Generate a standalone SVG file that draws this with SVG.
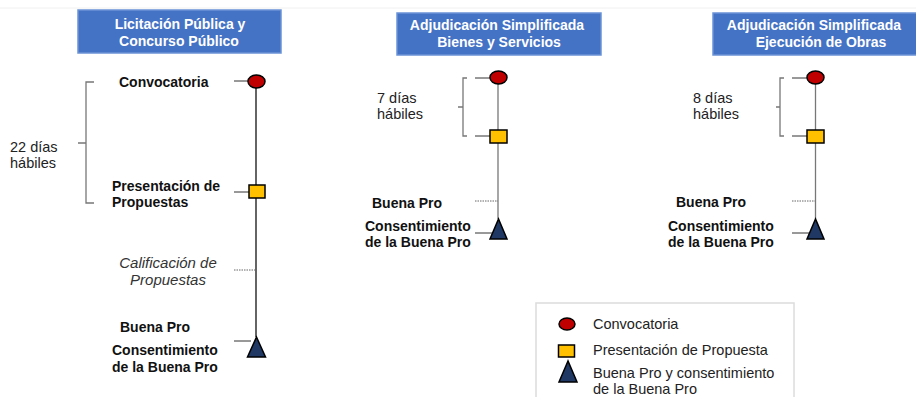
<svg xmlns="http://www.w3.org/2000/svg" width="916" height="397" viewBox="0 0 916 397">
<style>
.hdr{fill:#4472C4;stroke:#6B93D6;stroke-width:1.5}
.ht{font-family:"Liberation Sans",Arial,sans-serif;font-weight:bold;font-size:14px;fill:#fff;text-anchor:middle}
.lb{font-family:"Liberation Sans",Arial,sans-serif;font-weight:bold;font-size:14px;fill:#111}
.it{font-family:"Liberation Sans",Arial,sans-serif;font-style:italic;font-size:15px;fill:#333;text-anchor:middle}
.dd{font-family:"Liberation Sans",Arial,sans-serif;font-size:14.5px;fill:#222}
.lg{font-family:"Liberation Sans",Arial,sans-serif;font-size:14.5px;fill:#222}
.circ{fill:#C00000;stroke:#000;stroke-width:1.5}
.sq{fill:#FFC000;stroke:#000;stroke-width:1.5}
.tri{fill:#1F3864;stroke:#000;stroke-width:1.5}
.tick{stroke:#333;stroke-width:1;fill:none}
.dot{stroke:#666;stroke-width:1;stroke-dasharray:1.5 1;fill:none}
.br{stroke:#777;stroke-width:1.3;fill:none}
</style>
<rect width="916" height="397" fill="#fff"/>
<line x1="0" y1="8" x2="916" y2="8" stroke="#f0f0f0" stroke-width="1"/>

<g id="connectors">
<line x1="256" y1="81" x2="256" y2="337" stroke="#111" stroke-width="1.3"/>
<line x1="498" y1="78" x2="498" y2="219" stroke="#777" stroke-width="1.3"/>
<line x1="815.5" y1="78" x2="815.5" y2="219" stroke="#777" stroke-width="1.3"/>
<line class="tick" x1="234" y1="81" x2="248" y2="81"/>
<line class="tick" x1="234" y1="192" x2="249" y2="192"/>
<line class="dot" x1="234" y1="270" x2="256" y2="270"/>
<line class="tick" x1="234" y1="341" x2="251" y2="341"/>
<line class="tick" x1="475" y1="78" x2="490" y2="78"/>
<line class="tick" x1="475" y1="136" x2="490" y2="136"/>
<line class="dot" x1="475" y1="201" x2="498" y2="201"/>
<line class="tick" x1="475" y1="233" x2="492" y2="233"/>
<line class="tick" x1="792" y1="78" x2="807" y2="78"/>
<line class="tick" x1="792" y1="136" x2="807" y2="136"/>
<line class="dot" x1="792" y1="201" x2="815" y2="201"/>
<line class="tick" x1="792" y1="233" x2="809" y2="233"/>
<path class="br" d="M94,82 H86 V203 H94 M78,143 H86"/>
<path class="br" d="M467,78 H463 V136 H467 M458,107 H463"/>
<path class="br" d="M784,78 H780 V136 H784 M776,107 H780"/>
</g>

<g id="header1">
<rect class="hdr" x="78" y="10" width="203" height="43"/>
<text class="ht" x="180" y="29">Licitación Pública y</text>
<text class="ht" x="179" y="46">Concurso Público</text>
</g>
<g id="header2">
<rect class="hdr" x="397" y="13" width="204" height="42"/>
<text class="ht" x="497" y="30">Adjudicación Simplificada</text>
<text class="ht" x="499" y="47">Bienes y Servicios</text>
</g>
<g id="header3">
<rect class="hdr" x="713" y="13" width="210" height="42"/>
<text class="ht" x="814" y="30">Adjudicación Simplificada</text>
<text class="ht" x="821" y="47">Ejecución de Obras</text>
</g>

<g id="c1-convocatoria">
<ellipse class="circ" cx="256.5" cy="81.5" rx="8.5" ry="6.5"/>
<text class="lb" x="119" y="87">Convocatoria</text>
</g>
<g id="c1-presentacion">
<rect class="sq" x="249" y="185" width="16" height="13"/>
<text class="lb" x="112" y="191">Presentación de</text>
<text class="lb" x="112" y="207">Propuestas</text>
</g>
<g id="c1-calificacion">
<text class="it" x="168" y="268">Calificación de</text>
<text class="it" x="168" y="285">Propuestas</text>
</g>
<g id="c1-buenapro">
<polygon class="tri" points="256.5,337 247.5,357 265.5,357"/>
<text class="lb" x="120" y="332">Buena Pro</text>
<text class="lb" x="112" y="355">Consentimiento</text>
<text class="lb" x="112" y="372">de la Buena Pro</text>
</g>
<g id="c1-dias">
<text class="dd" x="10" y="152">22 días</text>
<text class="dd" x="10" y="168">hábiles</text>
</g>

<g id="c2-convocatoria">
<ellipse class="circ" cx="498.5" cy="77.5" rx="8.5" ry="6.5"/>
</g>
<g id="c2-presentacion">
<rect class="sq" x="490" y="130" width="17" height="13"/>
</g>
<g id="c2-dias">
<text class="dd" x="377" y="103">7 días</text>
<text class="dd" x="377" y="119">hábiles</text>
</g>
<g id="c2-buenapro">
<polygon class="tri" points="498.5,219 490,239 507,239"/>
<text class="lb" x="372" y="208">Buena Pro</text>
<text class="lb" x="365" y="231">Consentimiento</text>
<text class="lb" x="365" y="247">de la Buena Pro</text>
</g>

<g id="c3-convocatoria">
<ellipse class="circ" cx="815.5" cy="77.5" rx="8.5" ry="6.5"/>
</g>
<g id="c3-presentacion">
<rect class="sq" x="807" y="130" width="17" height="13"/>
</g>
<g id="c3-dias">
<text class="dd" x="693" y="103">8 días</text>
<text class="dd" x="693" y="119">hábiles</text>
</g>
<g id="c3-buenapro">
<polygon class="tri" points="815.5,219 807,239 824,239"/>
<text class="lb" x="676" y="207">Buena Pro</text>
<text class="lb" x="668" y="231">Consentimiento</text>
<text class="lb" x="668" y="247">de la Buena Pro</text>
</g>

<g id="legend">
<rect x="536" y="303" width="258" height="100" fill="#fff" stroke="#dcdcdc" stroke-width="1.5"/>
<ellipse class="circ" cx="567" cy="324" rx="8" ry="6"/>
<text class="lg" x="593" y="329">Convocatoria</text>
<rect class="sq" x="558.5" y="345" width="16" height="12"/>
<text class="lg" x="593" y="355">Presentación de Propuesta</text>
<polygon class="tri" points="568,361 559,382 577,382"/>
<text class="lg" x="593" y="378">Buena Pro y consentimiento</text>
<text class="lg" x="593" y="394">de la Buena Pro</text>
</g>
</svg>
